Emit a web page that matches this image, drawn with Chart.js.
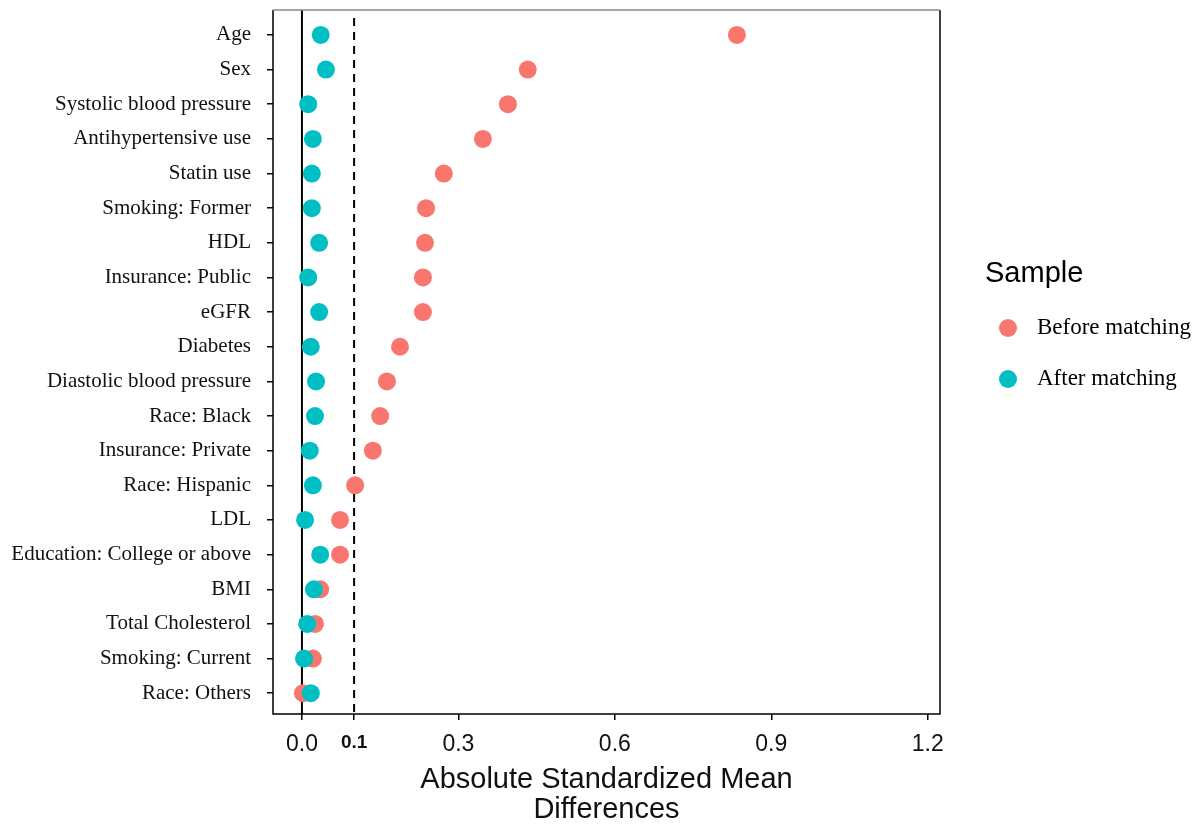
<!DOCTYPE html>
<html>
<head>
<meta charset="utf-8">
<script src="https://cdn.jsdelivr.net/npm/chart.js@4.4.0/dist/chart.umd.min.js"></script>
<style>
  html, body { margin: 0; padding: 0; background: #fff; }
  #wrap { position: relative; width: 1198px; height: 825px; }
  #legend { position: absolute; left: 985px; top: 256px; }
  #legend .title { font-family: "Liberation Sans", Arial, sans-serif; font-size: 29px; color: #000; margin-bottom: 27px; }
  #legend .item { position: relative; height: 51px; font-family: "Liberation Serif", "Times New Roman", serif; font-size: 23px; color: #000; }
  #legend .dot { position: absolute; left: 14px; top: 3px; width: 18px; height: 18px; border-radius: 50%; }
  #legend .lab { position: absolute; left: 52px; top: -2px; white-space: nowrap; }
</style>
</head>
<body>
<div id="wrap">
  <canvas id="smdChart" width="1198" height="825"></canvas>
  <div id="legend"></div>
</div>
<script>
// Dados
const covariates = ['Age', 'Sex', 'Systolic blood pressure', 'Antihypertensive use', 'Statin use',
  'Smoking: Former', 'HDL', 'Insurance: Public', 'eGFR', 'Diabetes', 'Diastolic blood pressure',
  'Race: Black', 'Insurance: Private', 'Race: Hispanic', 'LDL', 'Education: College or above',
  'BMI', 'Total Cholesterol', 'Smoking: Current', 'Race: Others'];
const beforeMatching = [0.834, 0.433, 0.395, 0.347, 0.272, 0.238, 0.236, 0.232, 0.232, 0.188,
  0.163, 0.150, 0.136, 0.102, 0.073, 0.073, 0.035, 0.025, 0.021, 0.002];
const afterMatching = [0.036, 0.046, 0.012, 0.021, 0.019, 0.019, 0.033, 0.012, 0.033, 0.017,
  0.027, 0.025, 0.015, 0.021, 0.006, 0.035, 0.023, 0.010, 0.004, 0.017];
const xTicks = [0, 0.1, 0.3, 0.6, 0.9, 1.2];
const seriesNames = ['Before matching', 'After matching'];
const seriesColors = ['#F8766D', '#00BFC4'];

const toPoints = vals => vals.map((v, i) => ({ x: v, y: i }));

// Linhas de referencia em x = 0 e x = 0.1 e moldura do painel
const refLines = {
  id: 'refLines',
  beforeDatasetsDraw(chart) {
    const { ctx, chartArea: a, scales: { x } } = chart;
    ctx.save();
    ctx.strokeStyle = '#000';
    ctx.lineWidth = 2;
    const x0 = x.getPixelForValue(0);
    ctx.beginPath(); ctx.moveTo(x0, a.top); ctx.lineTo(x0, a.bottom); ctx.stroke();
    const x1 = x.getPixelForValue(0.1);
    ctx.setLineDash([8, 6]);
    ctx.beginPath(); ctx.moveTo(x1, a.top + 8); ctx.lineTo(x1, a.bottom); ctx.stroke();
    ctx.setLineDash([]);
    ctx.lineWidth = 1.5;
    ctx.strokeStyle = '#000';
    ctx.beginPath();
    ctx.moveTo(a.left, a.top); ctx.lineTo(a.left, a.bottom); ctx.lineTo(a.right, a.bottom); ctx.lineTo(a.right, a.top);
    ctx.stroke();
    ctx.strokeStyle = '#888';
    ctx.beginPath(); ctx.moveTo(a.left, a.top); ctx.lineTo(a.right, a.top); ctx.stroke();
    ctx.restore();
  }
};

const ctx = document.getElementById('smdChart').getContext('2d');
new Chart(ctx, {
  type: 'scatter',
  data: {
    datasets: [
      { label: seriesNames[0], data: toPoints(beforeMatching), backgroundColor: seriesColors[0],
        borderWidth: 0, pointRadius: 9, pointHoverRadius: 9, order: 1 },
      { label: seriesNames[1], data: toPoints(afterMatching), backgroundColor: seriesColors[1],
        borderWidth: 0, pointRadius: 9, pointHoverRadius: 9, order: 0 }
    ]
  },
  options: {
    responsive: false,
    animation: false,
    layout: { padding: { left: 0, right: 258, top: 10, bottom: 0 } },
    plugins: { legend: { display: false }, tooltip: { enabled: false } },
    scales: {
      x: {
        type: 'linear',
        min: -0.0555,
        max: 1.2235,
        afterBuildTicks: s => { s.ticks = xTicks.map(v => ({ value: v })); },
        afterFit: s => { s.height = 111; s.paddingLeft = 0; s.paddingRight = 0; },
        border: { display: false },
        grid: { drawOnChartArea: false, drawTicks: true, tickLength: 6, color: '#000', lineWidth: 1.5 },
        ticks: {
          padding: 11,
          color: '#111',
          callback: v => v.toFixed(1),
          font: c => (c.tick && c.tick.value === 0.1)
            ? { family: 'Liberation Sans, Arial, sans-serif', size: 19, weight: 'bold' }
            : { family: 'Liberation Sans, Arial, sans-serif', size: 23 }
        },
        title: {
          display: true,
          text: ['Absolute Standardized Mean', 'Differences'],
          color: '#111',
          font: { family: 'Liberation Sans, Arial, sans-serif', size: 29, lineHeight: 1.04 },
          padding: { top: 4, bottom: 0 }
        }
      },
      y: {
        type: 'linear',
        reverse: true,
        min: -0.72,
        max: 19.6,
        afterBuildTicks: s => { s.ticks = covariates.map((c, i) => ({ value: i })); },
        afterFit: s => { s.width = 273; s.paddingTop = 0; s.paddingBottom = 0; },
        border: { display: false },
        grid: { drawOnChartArea: false, drawTicks: true, tickLength: 6, color: '#000', lineWidth: 1.5 },
        ticks: {
          padding: 16,
          color: '#111',
          callback: v => covariates[v],
          font: { family: 'Liberation Serif, Times New Roman, serif', size: 21 }
        }
      }
    }
  },
  plugins: [refLines]
});

// Legenda em HTML
const legend = document.getElementById('legend');
let html = '<div class="title">Sample</div>';
seriesNames.forEach((n, i) => {
  html += '<div class="item"><span class="dot" style="background:' + seriesColors[i] + '"></span><span class="lab">' + n + '</span></div>';
});
legend.innerHTML = html;
</script>
</body>
</html>
